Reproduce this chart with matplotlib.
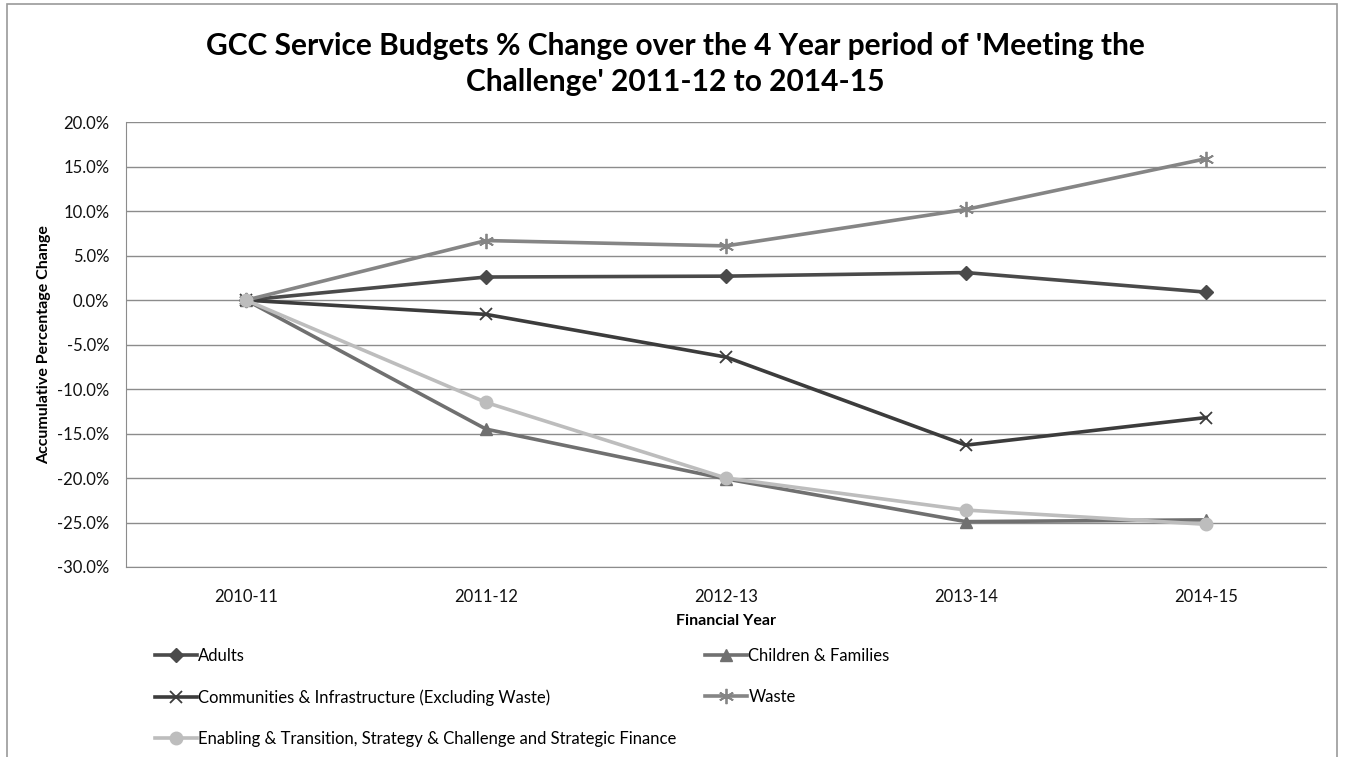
import matplotlib.pyplot as plt
from matplotlib.patches import Rectangle
from matplotlib.ticker import FuncFormatter

plt.rcParams['font.family'] = ['Lato', 'DejaVu Sans']

years = ['2010-11', '2011-12', '2012-13', '2013-14', '2014-15']
adults = [0.0, 2.6, 2.7, 3.1, 0.9]
children = [0.0, -14.5, -20.1, -24.9, -24.7]
communities = [0.0, -1.6, -6.4, -16.3, -13.2]
waste = [0.0, 6.7, 6.1, 10.2, 15.9]
enabling = [0.0, -11.5, -20.0, -23.6, -25.2]

series = [
    ('Adults', adults, '#4a4a4a', 'D', 7),
    ('Children & Families', children, '#707070', '^', 8),
    ('Communities & Infrastructure (Excluding Waste)', communities, '#3c3c3c', 'x', 9),
    ('Waste', waste, '#858585', (6, 2, 0), 11),
    ('Enabling & Transition, Strategy & Challenge and Strategic Finance', enabling, '#bdbdbd', 'o', 9),
]

fig = plt.figure(figsize=(13.51, 7.57), dpi=100)
fig.patches.append(Rectangle((0.005, -0.01), 0.985, 1.005, transform=fig.transFigure,
                             fill=False, edgecolor='#9a9a9a', linewidth=1.2))
ax = fig.add_axes([0.0933, 0.251, 0.8882, 0.5875])

x = list(range(len(years)))
handles = {}
for name, vals, col, mk, ms in series:
    mew = 1.3 if mk in ('x', (6, 2, 0)) else 1
    h, = ax.plot(x, vals, color=col, linewidth=2.6, marker=mk, markersize=ms,
                 markeredgewidth=mew, markeredgecolor=col, label=name)
    handles[name] = h

ax.set_xlim(-0.5, 4.5)
ax.set_ylim(-30, 20)
ax.set_yticks(range(-30, 21, 5))
ax.yaxis.set_major_formatter(FuncFormatter(lambda v, p: '%.1f%%' % v))
ax.set_xticks(x)
ax.set_xticklabels(years)
ax.tick_params(axis='y', length=0, labelsize=12, colors='#111111', pad=12)
ax.tick_params(axis='x', length=0, labelsize=12, colors='#111111', pad=16)
ax.grid(axis='y', color='#8c8c8c', linewidth=1)
ax.set_axisbelow(True)
for s in ['top', 'right']:
    ax.spines[s].set_visible(False)
ax.spines['left'].set_color('#8c8c8c')
ax.spines['bottom'].set_color('#8c8c8c')

ax.set_ylabel('Accumulative Percentage Change', fontsize=11.5, fontweight='bold', labelpad=4)
ax.set_xlabel('Financial Year', fontsize=11.5, fontweight='bold', labelpad=6)

fig.text(0.5, 0.939, "GCC Service Budgets % Change over the 4 Year period of 'Meeting the",
         ha='center', va='center', fontsize=21.5, fontweight='bold')
fig.text(0.5, 0.892, "Challenge' 2011-12 to 2014-15",
         ha='center', va='center', fontsize=21.5, fontweight='bold')

col1 = ['Adults', 'Communities & Infrastructure (Excluding Waste)',
        'Enabling & Transition, Strategy & Challenge and Strategic Finance']
col2 = ['Children & Families', 'Waste']
leg_kw = dict(frameon=False, fontsize=12, handlelength=2.5, handletextpad=0.1,
              labelspacing=1.5, borderaxespad=0, borderpad=0)
leg1 = fig.legend([handles[n] for n in col1], col1, loc='upper left',
                  bbox_to_anchor=(155 / 1351, 1 - 648 / 757), **leg_kw)
leg2 = fig.legend([handles[n] for n in col2], col2, loc='upper left',
                  bbox_to_anchor=(705 / 1351, 1 - 648 / 757), **leg_kw)

fig.savefig('out.png', dpi=100)
